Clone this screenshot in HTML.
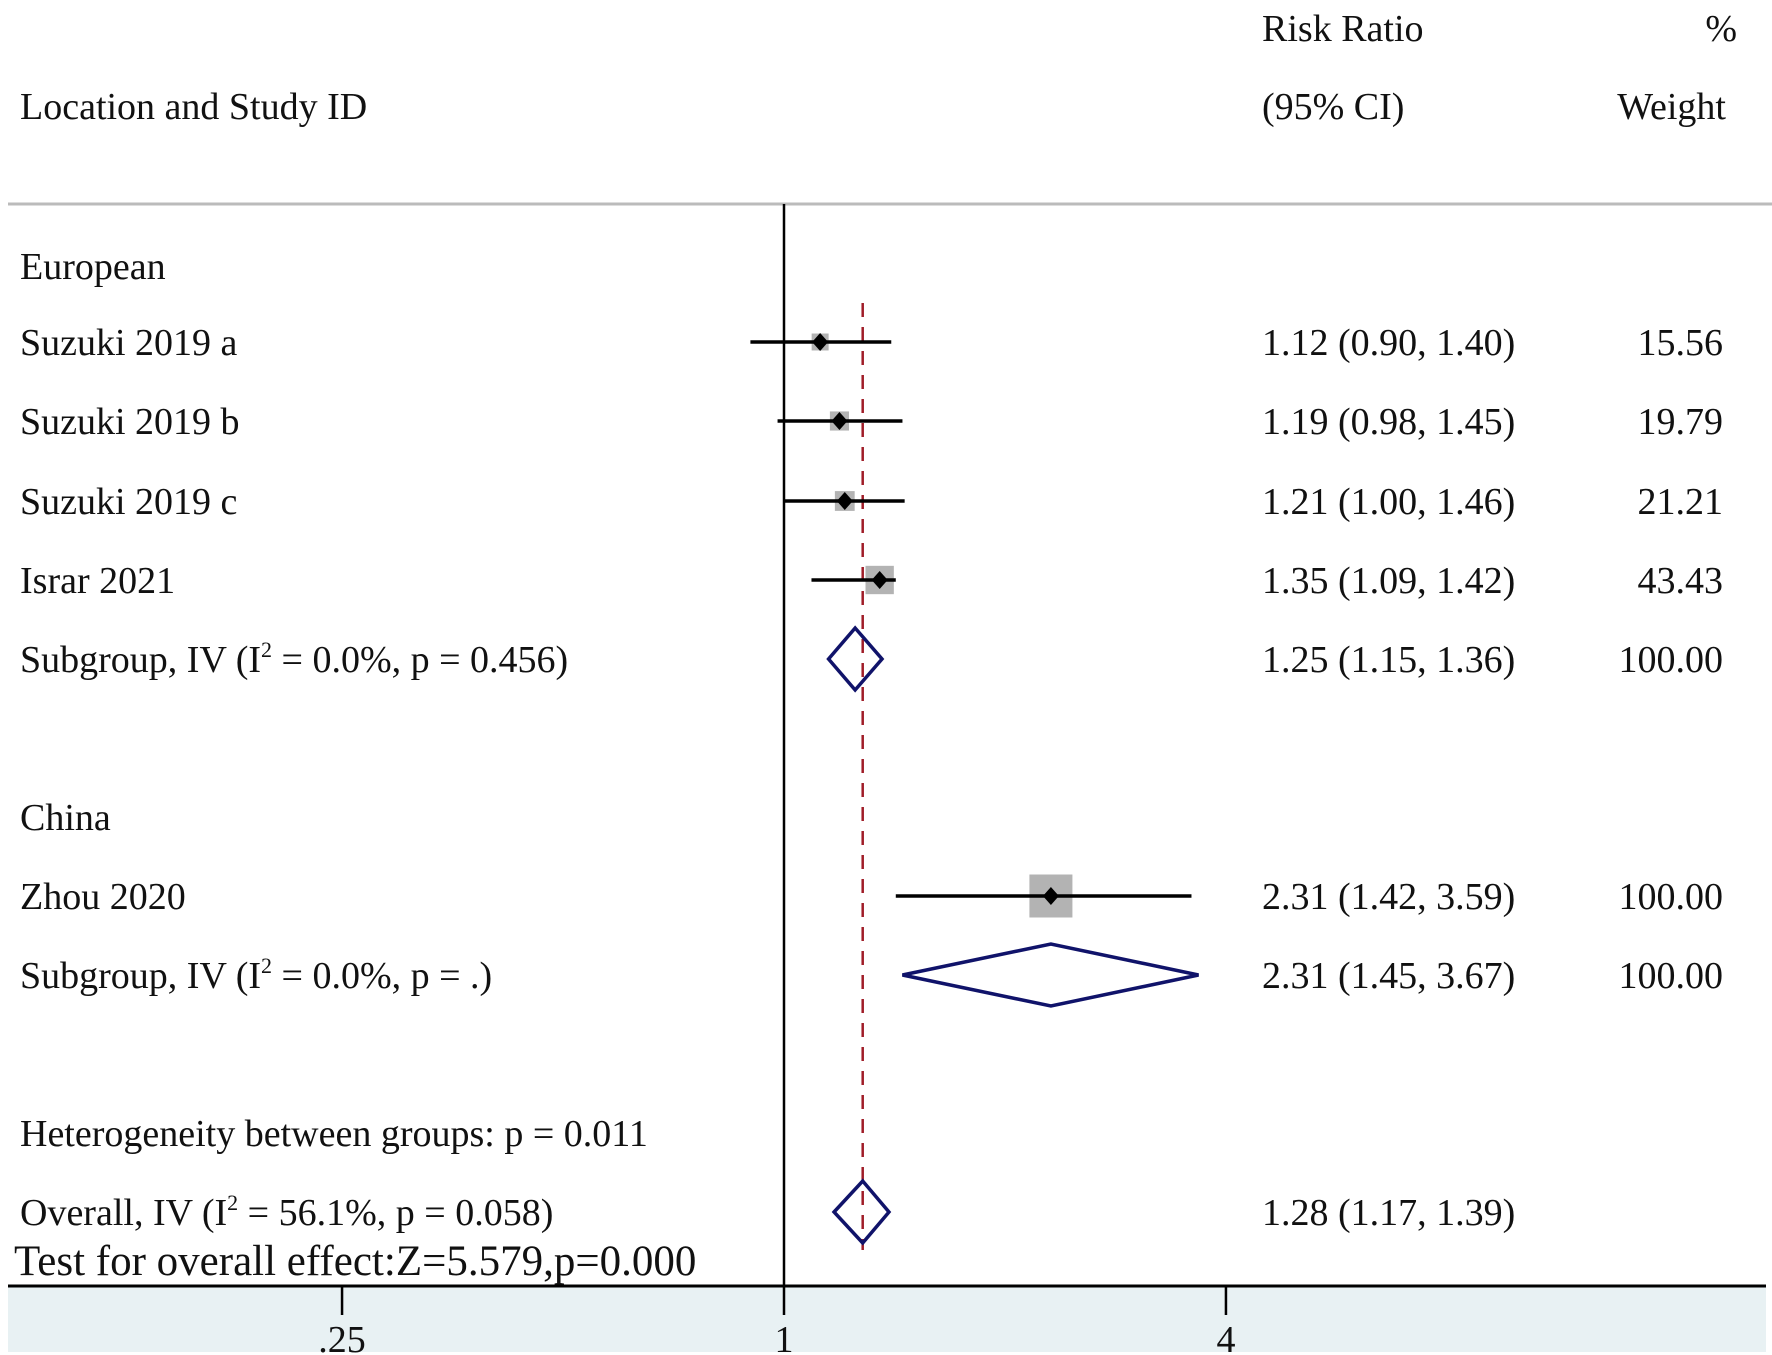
<!DOCTYPE html>
<html><head><meta charset="utf-8"><style>
html,body{margin:0;padding:0;background:#fff;}
svg{display:block;}
text{font-family:"Liberation Serif",serif;fill:#111;}
</style></head><body>
<svg id="chart" width="1772" height="1355" viewBox="0 0 1772 1355" xmlns="http://www.w3.org/2000/svg">
<rect x="0" y="0" width="1772" height="1355" fill="#fff"/>
<rect x="8" y="1286" width="1758" height="66" fill="#e8f1f3"/>
<g font-size="38">
<text x="20" y="119">Location and Study ID</text>
<text x="1262" y="41">Risk Ratio</text>
<text x="1262" y="119">(95% CI)</text>
<text x="1737" y="41" text-anchor="end">%</text>
<text x="1726" y="119" text-anchor="end">Weight</text>
</g>
<line x1="8" y1="204" x2="1772" y2="204" stroke="#bbb" stroke-width="3"/>
<g id="marks"></g>
</svg>
<script>
const labels = ["European","Suzuki 2019 a","Suzuki 2019 b","Suzuki 2019 c","Israr 2021","SUB1","China","Zhou 2020","SUB2","Heterogeneity between groups: p = 0.011","OVERALL"];
const rowY = [266,342,421,501,580,659,817,896,975,1133,1212];
const rowType = ["head","study","study","study","study","diamond","head","study","diamond","head","diamond"];
const estimates = [null,1.12,1.19,1.21,1.35,1.25,null,2.31,2.31,null,1.28];
const lowerCI = [null,0.90,0.98,1.00,1.09,1.15,null,1.42,1.45,null,1.17];
const upperCI = [null,1.40,1.45,1.46,1.42,1.36,null,3.59,3.67,null,1.39];
const ciText = [null,"1.12 (0.90, 1.40)","1.19 (0.98, 1.45)","1.21 (1.00, 1.46)","1.35 (1.09, 1.42)","1.25 (1.15, 1.36)",null,"2.31 (1.42, 3.59)","2.31 (1.45, 3.67)",null,"1.28 (1.17, 1.39)"];
const weights = [null,15.56,19.79,21.21,43.43,100.00,null,100.00,100.00,null,null];
const weightText = [null,"15.56","19.79","21.21","43.43","100.00",null,"100.00","100.00",null,null];
const tickValues = [0.25,1,4];
const tickLabels = [".25","1","4"];
const overallEffect = 1.28;

const NS="http://www.w3.org/2000/svg";
const g=document.getElementById('marks');
const x0=784, pxPerLn=318.8;
const FS=38;
function xs(v){return x0+pxPerLn*Math.log(v);}
function mk(tag,attrs,parent){const e=document.createElementNS(NS,tag);for(const k in attrs)e.setAttribute(k,attrs[k]);(parent||g).appendChild(e);return e;}

let nl=mk('line',{x1:xs(1),y1:204,x2:xs(1),y2:1286,stroke:'#000','stroke-width':2.5});


let od=mk('line',{x1:xs(overallEffect),y1:303,x2:xs(overallEffect),y2:1250,stroke:'#a01c28','stroke-width':2.5,'stroke-dasharray':'14,10'});



for(let i=0;i<labels.length;i++){
  const y=rowY[i];
  let lab;
  if(labels[i]==="SUB1"||labels[i]==="SUB2"||labels[i]==="OVERALL"){
    lab=mk('text',{x:20,y:y+13,'font-size':FS});
    const pre = labels[i]==="OVERALL"?"Overall, IV (I":"Subgroup, IV (I";
    const post = labels[i]==="SUB1"?" = 0.0%, p = 0.456)":labels[i]==="SUB2"?" = 0.0%, p = .)":" = 56.1%, p = 0.058)";
    lab.appendChild(document.createTextNode(pre));
    const ts=mk('tspan',{'font-size':22,dy:-15},lab);ts.textContent='2';
    const ts2=mk('tspan',{dy:15},lab);ts2.textContent=post;
  } else {
    lab=mk('text',{x:20,y:y+13,'font-size':FS});
    lab.textContent=labels[i];
  }
  
  
  if(ciText[i]){
    const c=mk('text',{x:1262,y:y+13,'font-size':FS});c.textContent=ciText[i];
    
    
  }
  if(weightText[i]){
    const w=mk('text',{x:1723,y:y+13,'font-size':FS,'text-anchor':'end'});w.textContent=weightText[i];
    
    
  }
  if(rowType[i]==="study"){
    const s=4.3*Math.sqrt(weights[i]);
    const b=mk('rect',{x:xs(estimates[i])-s/2,y:y-s/2,width:s,height:s,fill:'#b3b3b3'});
    
    
    const l=mk('line',{x1:xs(lowerCI[i]),y1:y,x2:xs(upperCI[i]),y2:y,stroke:'#000','stroke-width':3.5});
    
    
    const cx=xs(estimates[i]);
    const d=mk('polygon',{points:`${cx-8},${y} ${cx},${y-9} ${cx+8},${y} ${cx},${y+9}`,fill:'#000'});
    
    
  } else if(rowType[i]==="diamond"){
    const h=31, cx=xs(estimates[i]);
    const d=mk('polygon',{points:`${xs(lowerCI[i])},${y} ${cx},${y-h} ${xs(upperCI[i])},${y} ${cx},${y+h}`,fill:'none',stroke:'#10136a','stroke-width':3.5});
    
    
  }
}
const te=mk('text',{x:14,y:1275,'font-size':43});te.textContent='Test for overall effect:Z=5.579,p=0.000';



const ax=mk('line',{x1:8,y1:1286,x2:1766,y2:1286,stroke:'#000','stroke-width':3});


for(let k=0;k<tickValues.length;k++){
  const x=xs(tickValues[k]);
  const t=mk('line',{x1:x,y1:1286,x2:x,y2:1315,stroke:'#000','stroke-width':2.5});
  
  
  const tl=mk('text',{x:x,y:1352,'font-size':38,'text-anchor':'middle'});tl.textContent=tickLabels[k];
  
  
}
</script>
</body></html>
